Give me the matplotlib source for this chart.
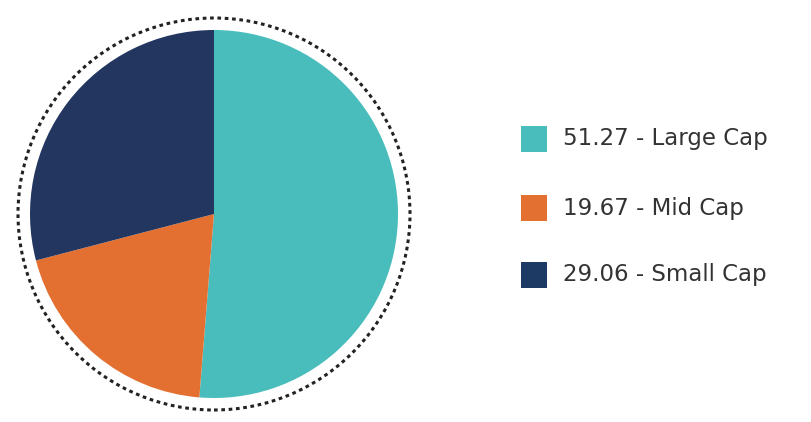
import matplotlib
matplotlib.use("Agg")
import matplotlib.pyplot as plt
from matplotlib.patches import Circle, Rectangle

labels = ["Large Cap", "Mid Cap", "Small Cap"]
values = [51.27, 19.67, 29.06]
colors = ["#48BDBC", "#E37031", "#223660"]
legend_colors = ["#48BDBC", "#E37031", "#1C3A63"]

W, H = 812, 422
fig = plt.figure(figsize=(W/100, H/100), dpi=100)
ax = fig.add_axes([4/W, -2/H, 420/W, 420/H])
ax.set_xlim(-210, 210); ax.set_ylim(-210, 210); ax.set_aspect("equal"); ax.axis("off")
ax.pie(values, colors=colors, radius=184, startangle=90, counterclock=False,
       wedgeprops=dict(linewidth=0))
ax.add_patch(Circle((0, 0), 196, fill=False, ls=(0, (1.2, 1.2)), lw=2.2, ec="#222222"))
ax.set_xlim(-210, 210); ax.set_ylim(-210, 210)

lax = fig.add_axes([0, 0, 1, 1]); lax.set_xlim(0, W); lax.set_ylim(H, 0); lax.axis("off")
ys = [139, 208, 275]
for v, l, c, y in zip(values, labels, legend_colors, ys):
    lax.add_patch(Rectangle((521, y-13), 26, 26, color=c, lw=0))
    lax.text(563, y, f"{v:.2f} - {l}", va="center", ha="left", fontsize=16.5,
             color="#333333", family="DejaVu Sans")
fig.savefig("out.png", dpi=100)
